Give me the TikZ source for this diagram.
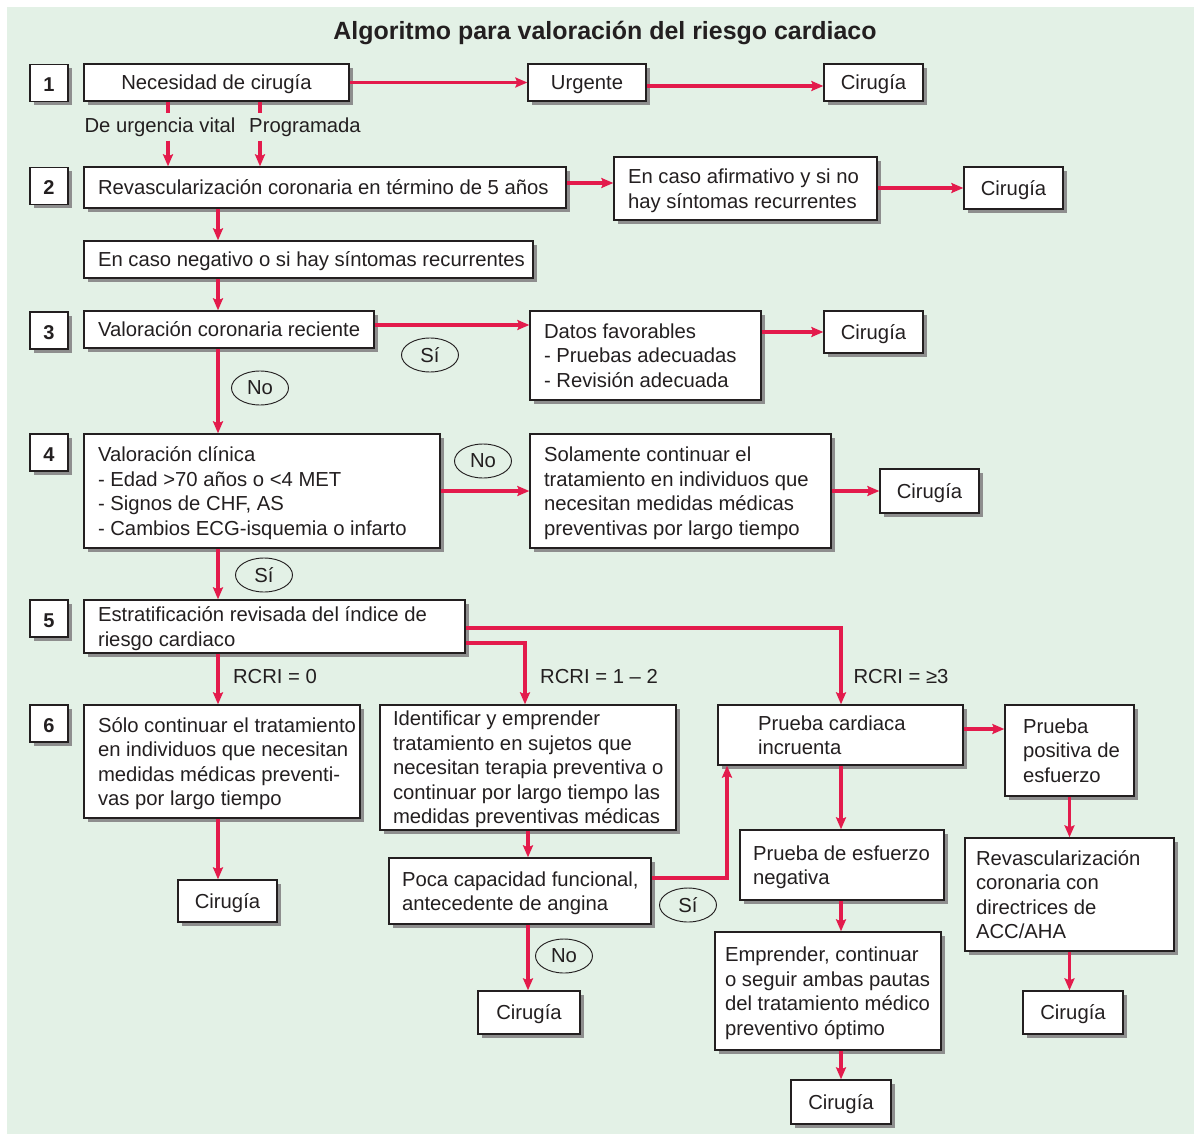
\documentclass[tikz,border=0pt]{standalone}
\usepackage{fontspec}
\setmainfont{Liberation Sans}
\usetikzlibrary{arrows.meta,shadows,shapes.geometric}

\definecolor{bggreen}{HTML}{E3F1E6}
\definecolor{flowred}{HTML}{E31B4C}
\definecolor{ink}{HTML}{231F20}
\definecolor{shade}{HTML}{8E8E8E}

% flow box: name, left, top, right, bottom, left padding, alignment (l/c), lines
\newcommand\flowbox[8]{%
  \pgfmathsetmacro\bxw{(#4-#2)*0.75}%
  \pgfmathsetmacro\bxh{(#5-#3)*0.75}%
  \pgfmathsetmacro\bxp{#6*0.75}%
  \pgfmathsetmacro\bxt{(#4-#2-2*#6)*0.75}%
  \node[box, minimum width=\bxw pt, minimum height=\bxh pt, inner xsep=\bxp pt]
    (#1) at ({(#2+#4)/2},{(#3+#5)/2})
    {\raisebox{-1.8pt}[\height][\depth]{\makebox[\bxt pt][#7]{\begin{tabular}{@{}#7@{}}#8\end{tabular}}}};}

\begin{document}
\begin{tikzpicture}[x=0.75pt,y=-0.75pt,
  every node/.style={font=\fontsize{15.2}{18.4}\selectfont, text=ink},
  box/.style={draw=ink, line width=1pt, fill=white, inner ysep=0pt,
    drop shadow={shadow xshift=3pt, shadow yshift=-3pt, fill=shade, opacity=1}},
  numbox/.style={box, minimum width=28.5pt, minimum height=27.75pt, inner sep=0pt,
    font=\fontsize{15}{18}\selectfont\bfseries},
  answer/.style={ellipse, draw=ink, line width=0.7pt, minimum width=42.75pt,
    minimum height=25.5pt, inner sep=0pt},
  tag/.style={inner xsep=0pt, inner ysep=3pt},
  flow/.style={draw=flowred, line width=2.4pt},
  arr/.style={flow, -{Stealth[length=9pt,width=7.5pt,inset=1.5pt]}},
]
% background panel
\useasboundingbox (0,0) rectangle (1194,1134);
\fill[bggreen] (7,7) rectangle (1194,1134);

\node[font=\fontsize{18.7}{22}\selectfont\bfseries] (title) at (605,33)
  {Algoritmo para valoración del riesgo cardiaco};

% step numbers
\node[numbox] (n1) at (49,83) {\raisebox{-1.5pt}[\height][\depth]{1}};
\node[numbox] (n2) at (49,186) {\raisebox{-1.5pt}[\height][\depth]{2}};
\node[numbox] (n3) at (49,330.5) {\raisebox{-1.5pt}[\height][\depth]{3}};
\node[numbox] (n4) at (49,452.5) {\raisebox{-1.5pt}[\height][\depth]{4}};
\node[numbox] (n5) at (49,618.5) {\raisebox{-1.5pt}[\height][\depth]{5}};
\node[numbox] (n6) at (49,723.5) {\raisebox{-1.5pt}[\height][\depth]{6}};

% boxes
\flowbox{nec}{84}{64}{349}{101}{14}{c}{Necesidad de cirugía}
\flowbox{urg}{528}{64}{646}{101}{10}{c}{Urgente}
\flowbox{cirA}{824}{64}{923}{101}{8}{c}{Cirugía}
\flowbox{rev}{84}{167}{566}{208}{14}{l}{Revascularización coronaria en término de 5 años}
\flowbox{afi}{614}{157}{877}{220}{14}{l}{En caso afirmativo y si no\\hay síntomas recurrentes}
\flowbox{cirB}{964}{167}{1063}{209}{8}{c}{Cirugía}
\flowbox{neg}{84}{241}{533}{278}{14}{l}{En caso negativo o si hay síntomas recurrentes}
\flowbox{val}{84}{311}{374}{348}{14}{l}{Valoración coronaria reciente}
\flowbox{dat}{530}{311}{761}{400}{14}{l}{Datos favorables\\- Pruebas adecuadas\\- Revisión adecuada}
\flowbox{cirC}{824}{311}{923}{353}{8}{c}{Cirugía}
\flowbox{cli}{84}{434}{440}{548}{14}{l}{Valoración clínica\\- Edad >70 años o <4 MET\\- Signos de CHF, AS\\- Cambios ECG-isquemia o infarto}
\flowbox{sol}{530}{434}{831}{548}{14}{l}{Solamente continuar el\\tratamiento en individuos que\\necesitan medidas médicas\\preventivas por largo tiempo}
\flowbox{cirD}{880}{469}{979}{513}{8}{c}{Cirugía}
\flowbox{est}{84}{600}{465}{653}{14}{l}{Estratificación revisada del índice de\\riesgo cardiaco}
\flowbox{solo}{84}{705}{360}{818}{14}{l}{Sólo continuar el tratamiento\\en individuos que necesitan\\medidas médicas preventi-\\vas por largo tiempo}
\flowbox{iden}{380}{705}{676}{830}{13}{l}{Identificar y emprender\\tratamiento en sujetos que\\necesitan terapia preventiva o\\continuar por largo tiempo las\\medidas preventivas médicas}
\flowbox{pci}{718}{705}{963}{765}{40}{l}{Prueba cardiaca\\incruenta}
\flowbox{ppos}{1005}{705}{1134}{796}{18}{l}{Prueba\\positiva de\\esfuerzo}
\flowbox{cirE}{178}{880}{277}{922}{8}{c}{Cirugía}
\flowbox{poca}{389}{858}{651}{924}{13}{l}{Poca capacidad funcional,\\antecedente de angina}
\flowbox{pen}{740}{830}{944}{900}{13}{l}{Prueba de esfuerzo\\negativa}
\flowbox{racc}{965}{838}{1174}{951}{11}{l}{Revascularización\\coronaria con\\directrices de\\ACC/AHA}
\flowbox{cirF}{478}{991}{580}{1034}{8}{c}{Cirugía}
\flowbox{emp}{715}{932}{941}{1050}{10}{l}{Emprender, continuar\\o seguir ambas pautas\\del tratamiento médico\\preventivo óptimo}
\flowbox{cirG}{1023}{991}{1123}{1034}{8}{c}{Cirugía}
\flowbox{cirH}{791}{1080}{891}{1124}{8}{c}{Cirugía}

% branch labels
\node[tag] (lvital) at (160,127) {De urgencia vital};
\node[tag] (lprog) at (305,127) {Programada};
\node[tag] (r0) at (275,677) {RCRI = 0};
\node[tag] (r12) at (599,677) {RCRI = 1 – 2};
\node[tag] (r3) at (901,677) {RCRI = ≥3};

\node[answer] (a1) at (430,355) {Sí};
\node[answer] (a2) at (260,388) {No};
\node[answer] (a3) at (483,461) {No};
\node[answer] (a4) at (264,575) {Sí};
\node[answer] (a5) at (688,905) {Sí};
\node[answer] (a6) at (564,956) {No};

% guide points for the connectors
\coordinate (xv) at (168,0);
\coordinate (xp) at (260,0);
\coordinate (xs) at (218,0);
\coordinate (xm) at (528,0);
\coordinate (xr) at (841,0);
\coordinate (hUrg) at (0,86);
\coordinate (hRev) at (0,183);
\coordinate (hVal) at (0,325);
\coordinate (hDat) at (0,332);
\coordinate (k12) at (525,643);
\coordinate (k3) at (841,628);
\coordinate (kSi) at (727,878);
\coordinate (hPci) at (0,729);

% connectors
\draw[arr] (nec.east) -- (urg.west);
\draw[arr] (urg.east |- hUrg) -- (cirA.west |- hUrg);
\draw[flow] (nec.south -| xv) -- (lvital.north -| xv);
\draw[arr] (lvital.south -| xv) -- (rev.north -| xv);
\draw[flow] (nec.south -| xp) -- (lprog.north -| xp);
\draw[arr] (lprog.south -| xp) -- (rev.north -| xp);
\draw[arr] (rev.east |- hRev) -- (afi.west |- hRev);
\draw[arr] (afi.east |- cirB.west) -- (cirB.west);
\draw[arr] (rev.south -| xs) -- (neg.north -| xs);
\draw[arr] (neg.south -| xs) -- (val.north -| xs);
\draw[arr] (val.east |- hVal) -- (dat.west |- hVal);
\draw[arr] (dat.east |- hDat) -- (cirC.west |- hDat);
\draw[arr] (val.south -| xs) -- (cli.north -| xs);
\draw[arr] (cli.east) -- (sol.west);
\draw[arr] (sol.east) -- (cirD.west);
\draw[arr] (cli.south -| xs) -- (est.north -| xs);
\draw[arr] (est.south -| xs) -- (solo.north -| xs);
\draw[arr] (est.east |- k12) -- (k12) -- (iden.north -| k12);
\draw[arr] (est.east |- k3) -- (k3) -- (pci.north -| k3);
\draw[arr] (solo.south -| xs) -- (cirE.north -| xs);
\draw[arr] (iden.south -| xm) -- (poca.north -| xm);
\draw[arr] (poca.south -| xm) -- (cirF.north -| xm);
\draw[arr] (poca.east |- kSi) -- (kSi) -- (pci.south -| kSi);
\draw[arr] (pci.south -| xr) -- (pen.north -| xr);
\draw[arr] (pci.east |- hPci) -- (ppos.west |- hPci);
\draw[arr] (ppos.south) -- (racc.north -| ppos.south);
\draw[arr] (pen.south -| xr) -- (emp.north -| xr);
\draw[arr] (emp.south -| xr) -- (cirH.north -| xr);
\draw[arr] (racc.south) -- (cirG.north -| racc.south);
\end{tikzpicture}
\end{document}
